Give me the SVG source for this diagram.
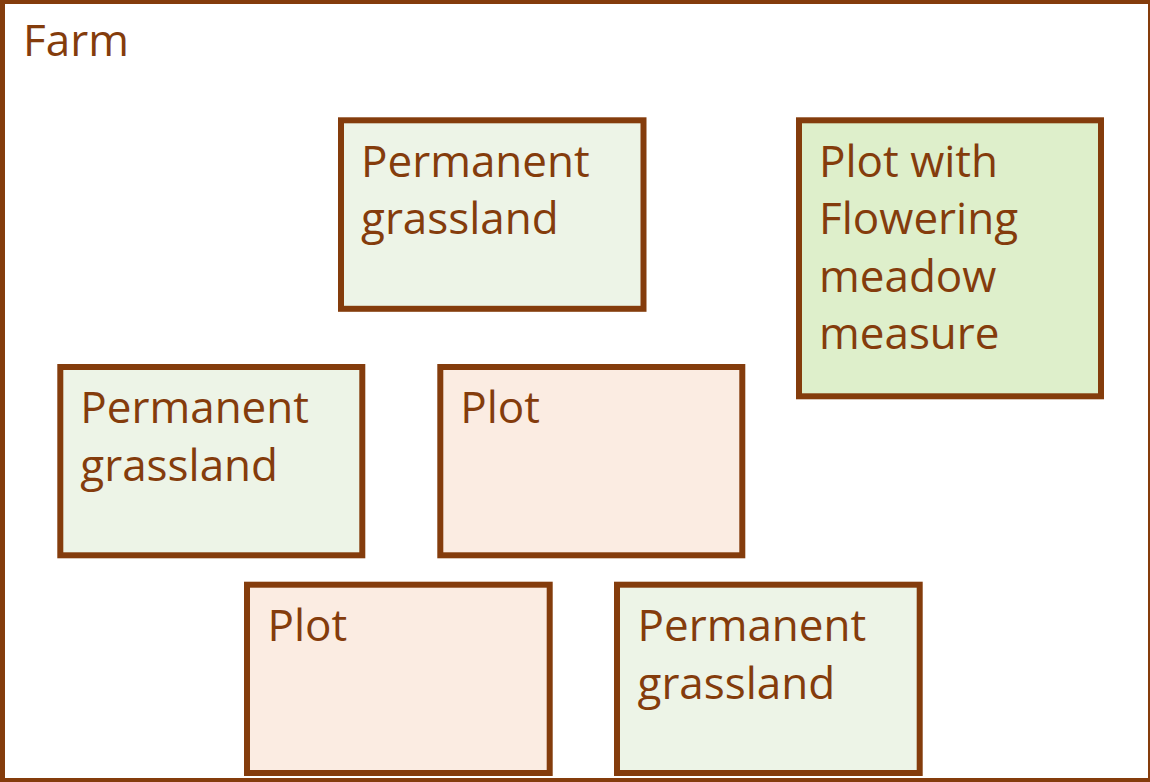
<svg xmlns="http://www.w3.org/2000/svg" width="1150" height="782" viewBox="0 0 1150 782">
<style>
.box{stroke:#843C0C;stroke-width:6}
.farm{fill:#FFFFFF;stroke:#843C0C;stroke-width:5}
.grass{fill:#EDF4E7}
.plot{fill:#FBECE2}
.meadow{fill:#DEEFCB}
text{font-family:"Open Sans","Noto Sans","Liberation Sans",sans-serif;font-size:44px;fill:#843C0C}
</style>
<g id="farm">
<rect class="farm" x="2.5" y="1.5" width="1148" height="779"/>
<text x="23" y="56">Farm</text>
</g>
<g id="connectors"></g>
<g id="grassland-top">
<rect class="box grass" x="341" y="120.3" width="302.5" height="188.5"/>
<text x="361" y="176.7">Permanent</text>
<text x="361" y="234.2">grassland</text>
</g>
<g id="plot-flowering">
<rect class="box meadow" x="799" y="120.3" width="302" height="276"/>
<text x="819" y="176.7">Plot with</text>
<text x="819" y="234.2">Flowering</text>
<text x="819" y="291.7">meadow</text>
<text x="819" y="349.2">measure</text>
</g>
<g id="grassland-left">
<rect class="box grass" x="60.3" y="367" width="302" height="188.3"/>
<text x="80.3" y="423.4">Permanent</text>
<text x="80.3" y="480.9">grassland</text>
</g>
<g id="plot-middle">
<rect class="box plot" x="440.3" y="367" width="302" height="188.3"/>
<text x="460.3" y="423.4">Plot</text>
</g>
<g id="plot-bottom">
<rect class="box plot" x="247" y="584.7" width="302.7" height="188.3"/>
<text x="267.5" y="641">Plot</text>
</g>
<g id="grassland-bottom">
<rect class="box grass" x="617" y="584.7" width="302.7" height="188.3"/>
<text x="637.5" y="641">Permanent</text>
<text x="637.5" y="698.5">grassland</text>
</g>
</svg>
